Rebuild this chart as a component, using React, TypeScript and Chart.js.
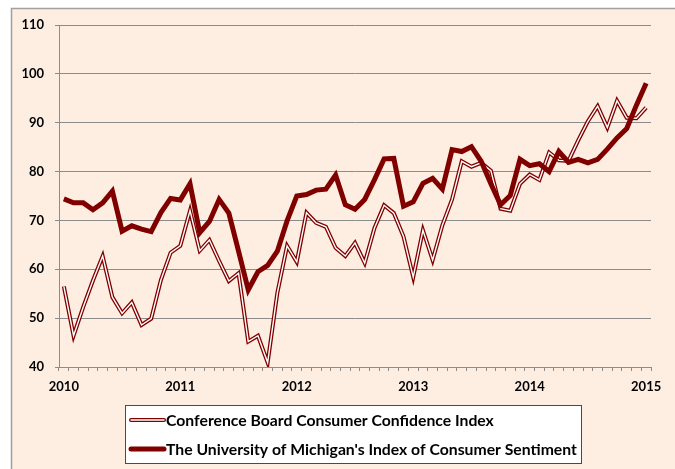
import React, { useEffect, useRef } from 'react';
import { Chart, registerables } from 'chart.js';

Chart.register(...registerables);

// ---- data ----
const YEARS: string[] = ['2010', '2011', '2012', '2013', '2014', '2015'];
const MONTHS: string[] = ['Jan', 'Feb', 'Mar', 'Apr', 'May', 'Jun', 'Jul', 'Aug', 'Sep', 'Oct', 'Nov', 'Dec'];
// monthly categories Jan 2010 .. Jan 2015 (61 months)
const CATEGORIES: string[] = YEARS.flatMap((y) => MONTHS.map((m) => `${m} ${y}`)).slice(0, 61);
const YEAR_TICK_LABELS: string[] = ['2010', '2011', '2012', '2013', '2014', '2015'];

const CB_LABEL = 'Conference Board Consumer Confidence Index';
const UM_LABEL = "The University of Michigan's Index of Consumer Sentiment";

const conferenceBoard: number[] = [
  56.5, 46.4, 52.3, 57.7, 62.7, 54.3, 51.0, 53.2, 48.6, 49.9, 57.8, 63.4,
  64.8, 72.0, 63.8, 66.0, 61.7, 57.6, 59.2, 45.2, 46.4, 40.9, 55.2, 64.8,
  61.5, 71.6, 69.5, 68.7, 64.4, 62.7, 65.4, 61.3, 68.4, 73.1, 71.5, 66.7,
  58.4, 68.0, 61.9, 69.0, 74.3, 82.1, 81.0, 81.8, 80.2, 72.4, 72.0, 77.5,
  79.4, 78.3, 83.9, 82.3, 82.2, 86.4, 90.3, 93.4, 89.0, 94.5, 91.0, 90.9,
  93.1,
];

const michigan: number[] = [
  74.4, 73.6, 73.6, 72.2, 73.6, 76.0, 67.8, 68.9, 68.2, 67.7, 71.6, 74.5,
  74.2, 77.5, 67.5, 69.8, 74.3, 71.5, 63.7, 55.8, 59.5, 60.8, 63.7, 69.9,
  75.0, 75.3, 76.2, 76.4, 79.3, 73.2, 72.3, 74.3, 78.3, 82.6, 82.7, 72.9,
  73.8, 77.6, 78.6, 76.4, 84.5, 84.1, 85.1, 82.1, 77.5, 73.2, 75.1, 82.5,
  81.2, 81.6, 80.0, 84.1, 81.9, 82.5, 81.8, 82.5, 84.6, 86.9, 88.8, 93.6,
  98.1,
];

const Y_MIN = 40;
const Y_MAX = 110;
const Y_STEP = 10;

// ---- styles ----
const MAROON = '#800000';
const GRID = '#8c8c8c';
const BG = 'rgb(253,238,225)';
const FONT_FAMILY = 'Lato, "Open Sans", sans-serif';

const backgroundPlugin = {
  id: 'bgPanel',
  beforeDraw(chart: any) {
    const { ctx, width, height } = chart;
    ctx.save();
    ctx.fillStyle = '#ffffff';
    ctx.fillRect(0, 0, width, height);
    ctx.fillStyle = BG;
    ctx.fillRect(11, 8, width - 11, height - 8);
    ctx.strokeStyle = '#a0a0a0';
    ctx.lineWidth = 1.5;
    ctx.beginPath();
    ctx.moveTo(11.5, height);
    ctx.lineTo(11.5, 8.5);
    ctx.lineTo(width, 8.5);
    ctx.stroke();
    ctx.restore();
  },
};

const doubleLinePlugin = {
  id: 'doubleLine',
  afterDatasetDraw(chart: any, args: any) {
    const ds = chart.data.datasets[args.index];
    if (!ds || !ds.doubleLine) return;
    const meta = chart.getDatasetMeta(args.index);
    const pts = meta.data;
    if (!pts.length) return;
    const { ctx } = chart;
    ctx.save();
    ctx.strokeStyle = '#ffffff';
    ctx.lineWidth = 1.4;
    ctx.lineJoin = 'miter';
    ctx.beginPath();
    pts.forEach((p: any, i: number) => {
      if (i === 0) ctx.moveTo(p.x, p.y);
      else ctx.lineTo(p.x, p.y);
    });
    ctx.stroke();
    ctx.restore();
  },
};

const legendPlugin = {
  id: 'boxLegend',
  afterDraw(chart: any) {
    const { ctx } = chart;
    const bx = 125;
    const by = 405;
    const bw = 456;
    const bh = 58;
    ctx.save();
    ctx.fillStyle = '#ffffff';
    ctx.fillRect(bx, by, bw, bh);
    ctx.strokeStyle = '#4a4a4a';
    ctx.lineWidth = 1;
    ctx.strokeRect(bx + 0.5, by + 0.5, bw, bh);

    const items = chart.data.datasets;
    const rows = [items.find((d: any) => d.label === CB_LABEL), items.find((d: any) => d.label === UM_LABEL)];
    const rowY = [by + 15, by + 44];
    const lx0 = bx + 6;
    const lx1 = bx + 39;
    const textX = lx1 + 2;
    // size the font so the longest entry fills the box like the original
    ctx.font = `bold 14px ${FONT_FAMILY}`;
    const longest = Math.max(...rows.map((d: any) => (d ? ctx.measureText(d.label).width : 0)));
    const target = bx + bw - 4 - textX;
    const size = Math.min(16, (14 * target) / longest);
    ctx.font = `bold ${size.toFixed(2)}px ${FONT_FAMILY}`;
    ctx.textBaseline = 'middle';
    ctx.textAlign = 'left';
    rows.forEach((d: any, i: number) => {
      if (!d) return;
      const y = rowY[i];
      ctx.lineCap = 'round';
      ctx.strokeStyle = MAROON;
      ctx.lineWidth = d.doubleLine ? 4 : 5;
      ctx.beginPath();
      ctx.moveTo(lx0, y);
      ctx.lineTo(lx1, y);
      ctx.stroke();
      if (d.doubleLine) {
        ctx.strokeStyle = '#ffffff';
        ctx.lineWidth = 1.4;
        ctx.beginPath();
        ctx.moveTo(lx0, y);
        ctx.lineTo(lx1, y);
        ctx.stroke();
      }
      ctx.fillStyle = '#000000';
      ctx.fillText(d.label, textX, y + 1);
    });
    ctx.restore();
  },
};

export default function App() {
  const ref = useRef<HTMLCanvasElement>(null);

  useEffect(() => {
    if (!ref.current) return;
    const tickFont = { family: FONT_FAMILY, weight: 'bold' as const, size: 13 };
    const chart = new Chart(ref.current, {
      type: 'line',
      data: {
        labels: CATEGORIES,
        datasets: [
          {
            label: UM_LABEL,
            data: michigan,
            borderColor: MAROON,
            backgroundColor: MAROON,
            borderWidth: 5,
            pointRadius: 0,
            tension: 0,
            fill: false,
            order: 0,
          },
          {
            label: CB_LABEL,
            data: conferenceBoard,
            borderColor: MAROON,
            backgroundColor: '#ffffff',
            borderWidth: 4,
            pointRadius: 0,
            tension: 0,
            fill: false,
            order: 1,
            doubleLine: true,
          } as any,
        ],
      },
      options: {
        animation: false,
        responsive: false,
        devicePixelRatio: 1,
        layout: { padding: { left: 0, top: 25, right: 24, bottom: 72 } },
        plugins: {
          legend: { display: false },
          tooltip: { enabled: false },
        },
        scales: {
          x: {
            type: 'category',
            offset: true,
            grid: {
              offset: true,
              drawOnChartArea: false,
              drawTicks: true,
              tickLength: 4,
              color: GRID,
              lineWidth: 1,
            },
            border: { display: true, color: GRID, width: 1 },
            ticks: {
              autoSkip: false,
              maxRotation: 0,
              minRotation: 0,
              padding: 8,
              color: '#000000',
              font: tickFont,
              callback: (_v: any, i: number) => (i % 12 === 0 ? YEAR_TICK_LABELS[i / 12] ?? '' : ''),
            },
            afterFit: (s: any) => {
              s.height = 30;
            },
          },
          y: {
            min: Y_MIN,
            max: Y_MAX,
            grid: { color: GRID, lineWidth: 1, tickLength: 4, drawTicks: true },
            border: { display: true, color: GRID, width: 1 },
            ticks: {
              stepSize: Y_STEP,
              padding: 11,
              color: '#000000',
              font: tickFont,
            },
            afterFit: (s: any) => {
              s.width = 59;
            },
          },
        },
      },
      plugins: [backgroundPlugin, doubleLinePlugin, legendPlugin],
    });
    return () => chart.destroy();
  }, []);

  return (
    <div style={{ position: 'absolute', left: 0, top: 0, width: 675, height: 469 }}>
      <canvas ref={ref} width={675} height={469} style={{ display: 'block', width: 675, height: 469 }} />
    </div>
  );
}
